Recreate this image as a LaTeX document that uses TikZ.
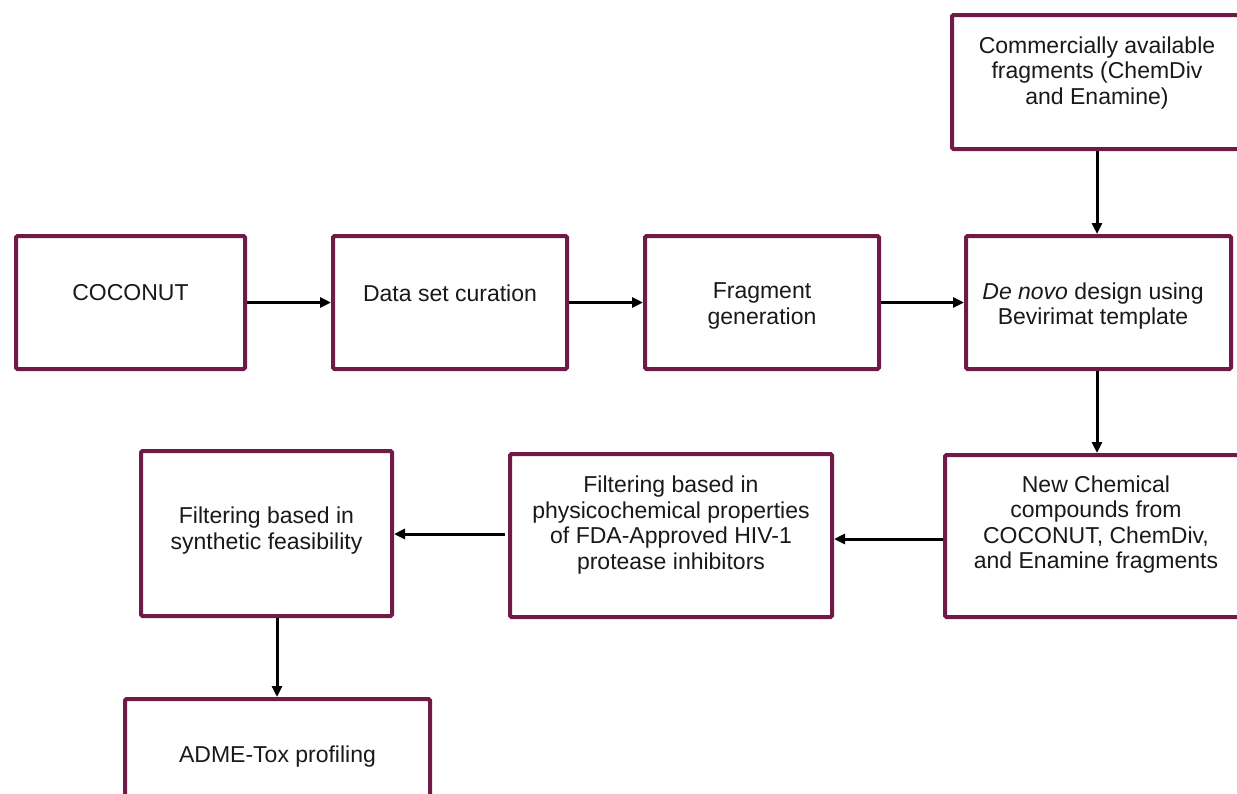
\documentclass[tikz,border=0pt]{standalone}
\usepackage{fontspec}
\setmainfont{Liberation Sans}
\usetikzlibrary{arrows.meta}
\definecolor{maroon}{RGB}{112,26,72}
\tikzset{
  box/.style={draw=maroon, line width=4pt, rectangle, rounded corners=1.5pt, fill=white, inner sep=0pt, minimum width=#1},
  txt/.style={align=center, font=\fontsize{23}{25.5}\selectfont, inner sep=0pt, text=black!90},
  conn/.style={line width=3pt, -{Triangle[length=11pt,width=10pt]}}
}
\begin{document}
\begin{tikzpicture}[x=1pt,y=-1pt]
\useasboundingbox (0,0) rectangle (1237,793);
\clip (0,0) rectangle (1237,793);
\fill[white] (0,0) rectangle (1237,793);
% boxes
\node[box=229pt, minimum height=133pt] (coco) at (130.5,302.5) {};
\node[box=234pt, minimum height=133pt] (data) at (450,302.5) {};
\node[box=234pt, minimum height=133pt] (frag) at (762,302.5) {};
\node[box=265pt, minimum height=133pt] (denovo) at (1098.5,302.5) {};
\node[box=290pt, minimum height=134pt] (comm) at (1097,82) {};
\node[box=302pt, minimum height=162pt] (new) at (1096,536) {};
\node[box=322pt, minimum height=163pt] (phys) at (671,535.5) {};
\node[box=251pt, minimum height=165pt] (synth) at (266.5,533.5) {};
\node[box=305pt, minimum height=120pt] (adme) at (277.5,759) {};
% texts
\node[txt] (coco-t) at (130.5,293) {COCONUT};
\node[txt] (data-t) at (450,293) {Data set curation};
\node[txt] (frag-t) at (762,306) {Fragment\\generation};
\node[txt] (denovo-t) at (1093,306) {\textit{De novo} design using\\Bevirimat template};
\node[txt] (comm-t) at (1097,73) {Commercially available\\fragments (ChemDiv\\and Enamine)};
\node[txt] (new-t) at (1096,524.5) {New Chemical\\compounds from\\COCONUT, ChemDiv,\\and Enamine fragments};
\node[txt] (phys-t) at (671,525) {Filtering based in\\physicochemical properties\\of FDA-Approved HIV-1\\protease inhibitors};
\node[txt] (synth-t) at (266.5,530.5) {Filtering based in\\synthetic feasibility};
\node[txt] (adme-t) at (277.5,757) {ADME-Tox profiling};
% connectors
\draw[conn] (coco.east) -- (data.west);
\draw[conn] (data.east) -- (frag.west);
\draw[conn] (frag.east) -- (denovo.west);
\draw[conn] (comm.south) -- (denovo.north -| comm.south);
\draw[conn] (denovo.south -| comm.south) -- (new.north -| comm.south);
\draw[conn] ([yshift=-3pt]new.west) -- ([yshift=-3pt]new.west -| phys.east);
\draw[conn] ([xshift=-3pt,yshift=1.5pt]phys.west) -- ([yshift=1.5pt]phys.west -| synth.east);
\draw[conn] ([xshift=10.5pt]synth.south) -- ([xshift=10.5pt]synth.south |- adme.north);
\end{tikzpicture}
\end{document}
